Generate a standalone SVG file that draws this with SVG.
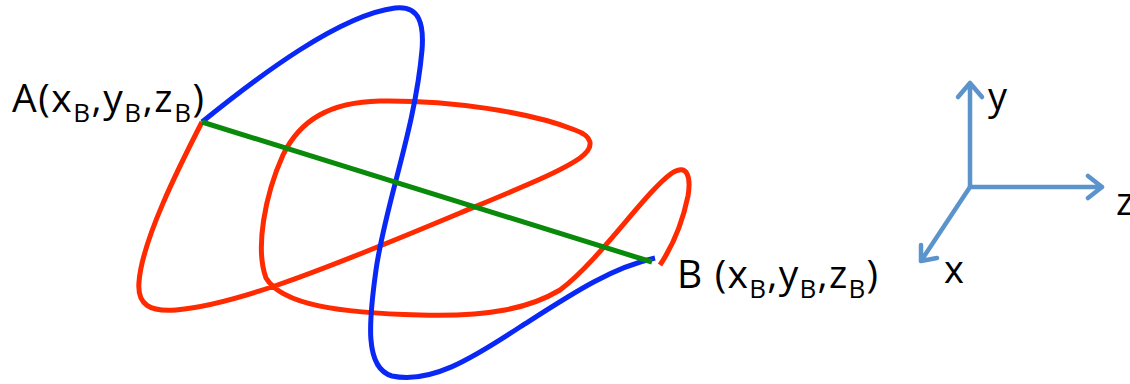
<svg xmlns="http://www.w3.org/2000/svg" width="1130" height="384" viewBox="0 0 1130 384">
<style>
.c{fill:none;stroke-width:5;stroke-linecap:butt;stroke-linejoin:round}
.red{stroke:#ff2a00}
.blue{stroke:#0a28f5}
.green{stroke:#0a8a0a}
.ax{fill:none;stroke:#5b93cc;stroke-width:4.5;stroke-linecap:round;stroke-linejoin:round}
.t{font-family:"Open Sans","Liberation Sans",sans-serif;fill:#000}
.big{font-size:39px}
.sub{font-size:26px}
.lab{font-size:38px}
</style>
<rect width="1130" height="384" fill="#fff"/>
<g id="connectors">
<path id="red-path" class="c red" d="M202,122 C180,165 142,240 139,282 C137,305 150,312 176,310 C230,305 300,280 460,213 C520,188 560,172 580,158 C596,146 592,136 575,130 C530,112 450,100 380,101 C330,102 300,120 283,155 C265,195 255,248 266,278 C282,305 340,313 420,315 C490,317 530,308 560,290 C600,260 645,192 672,173 C688,163 691,178 688,196 C682,225 670,250 660,265"/>
<path id="blue-path" class="c blue" d="M202,122 C260,75 340,15 395,8 C420,5 424,25 422,50 C415,130 385,205 376,270 C369,320 364,368 392,376 C430,384 470,360 520,327 C570,295 610,268 655,258"/>
<path id="green-line" class="c green" d="M202,122 L652,262"/>
</g>
<g id="label-A">
<text class="t big" x="12" y="112" textLength="192" lengthAdjust="spacing">A(x<tspan class="sub" dy="10">B</tspan><tspan dy="-10">,y</tspan><tspan class="sub" dy="10">B</tspan><tspan dy="-10">,z</tspan><tspan class="sub" dy="10">B</tspan><tspan dy="-10">)</tspan></text>
</g>
<g id="label-B">
<text class="t big" x="677" y="288" textLength="201" lengthAdjust="spacing">B (x<tspan class="sub" dy="10">B</tspan><tspan dy="-10">,y</tspan><tspan class="sub" dy="10">B</tspan><tspan dy="-10">,z</tspan><tspan class="sub" dy="10">B</tspan><tspan dy="-10">)</tspan></text>
</g>
<g id="axes">
<path class="ax" d="M970,187 L970,83 M958,97 L970,83 L982,97"/>
<path class="ax" d="M970,187 L1102,187 M1088,176 L1102,187 L1088,198"/>
<path class="ax" d="M970,187 L921,261 M921,245 L921,261 L937,258"/>
<text class="t lab" x="988" y="110">y</text>
<text class="t lab" x="1116" y="215">z</text>
<text class="t lab" x="944" y="283">x</text>
</g>
</svg>
